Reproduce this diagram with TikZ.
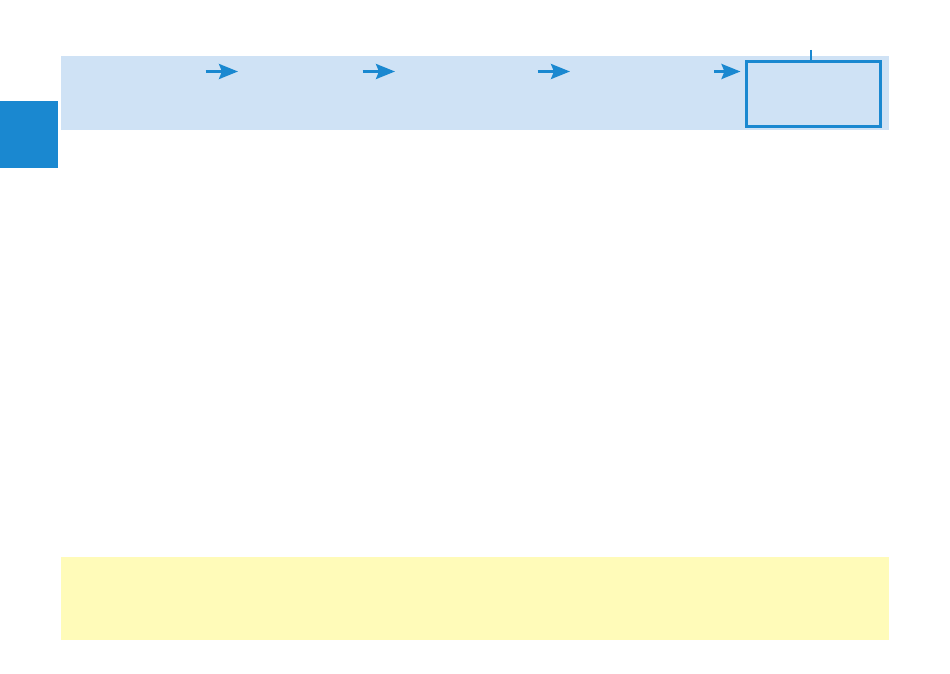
\documentclass[tikz,border=0pt]{standalone}
\usetikzlibrary{arrows.meta}
\definecolor{dblue}{HTML}{1A88D0}
\definecolor{lblue}{HTML}{CFE2F5}
\definecolor{lyellow}{HTML}{FFFBB9}
\tikzset{
  flowarrow/.style={draw=dblue, line width=3pt*0.75, -{Stealth[length=19pt*0.75, width=15pt*0.75, inset=3pt*0.75]}},
  outbox/.style={draw=dblue, line width=2.2pt*0.75, fill=lblue, minimum width=134pt*0.75, minimum height=65pt*0.75, inner sep=0pt, outer sep=0pt, anchor=north west},
}
\begin{document}
\begin{tikzpicture}[x=0.75pt, y=-0.75pt]
\useasboundingbox (0,0) rectangle (950,674);
\fill[white] (0,0) rectangle (950,674);
% bands
\fill[lblue] (61,56) rectangle (889,130);
\fill[lyellow] (61,557) rectangle (889,640);
\fill[dblue] (0,101) rectangle (58,168);
% output box
\node[outbox] (box) at (746.5,61.5) {};
\coordinate (tick) at (811,50);
\draw[dblue, line width=2pt*0.75] (tick) -- (box.north -| tick);
% arrows
\coordinate (a1s) at (205.5,71.5); \coordinate (a1e) at (238,71.5);
\coordinate (a2s) at (362.5,71.5); \coordinate (a2e) at (395,71.5);
\coordinate (a3s) at (537.5,71.5); \coordinate (a3e) at (570,71.5);
\coordinate (a4s) at (714,71.5);
\draw[flowarrow] (a1s) -- (a1e);
\draw[flowarrow] (a2s) -- (a2e);
\draw[flowarrow] (a3s) -- (a3e);
\draw[flowarrow, shorten >=4.5pt] (a4s) -- (box.west |- a4s);
\end{tikzpicture}
\end{document}
